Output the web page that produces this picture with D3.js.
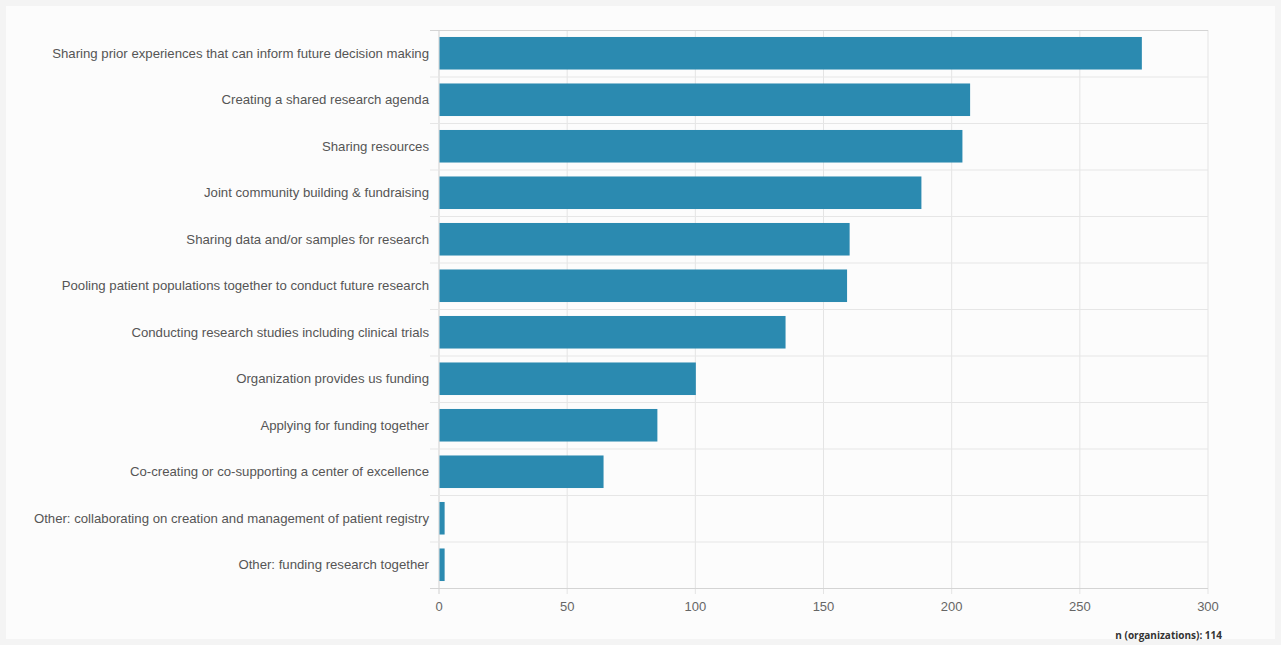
<!DOCTYPE html>
<html><head><meta charset="utf-8">
<script src="https://cdn.jsdelivr.net/npm/d3@7"></script>
<style>
html,body{margin:0;padding:0;background:#f4f4f4;}
svg{display:block;}
</style></head>
<body>
<svg id="c" width="1281" height="645"></svg>
<script>
const categories = [
  "Sharing prior experiences that can inform future decision making",
  "Creating a shared research agenda",
  "Sharing resources",
  "Joint community building & fundraising",
  "Sharing data and/or samples for research",
  "Pooling patient populations together to conduct future research",
  "Conducting research studies including clinical trials",
  "Organization provides us funding",
  "Applying for funding together",
  "Co-creating or co-supporting a center of excellence",
  "Other: collaborating on creation and management of patient registry",
  "Other: funding research together"
];
const values = [274, 207, 204, 188, 160, 159, 135, 100, 85, 64, 2, 2];
const xTicks = [0, 50, 100, 150, 200, 250, 300];
const note = "n (organizations): 114";

(function(){
const svg = d3.select("#c");
svg.append("rect").attr("x",6).attr("y",6).attr("width",1269).attr("height",633).attr("fill","#fcfcfc");

const mLeft = 439, mRight = 1208, mTop = 30, mBottom = 588;
const x = d3.scaleLinear().domain([0,300]).range([mLeft,mRight]);
const y = d3.scaleBand().domain(categories).range([mTop,mBottom]).paddingInner(0.3).paddingOuter(0.15);
const rowY = d3.scaleBand().domain(categories).range([mTop,mBottom]);

const g = svg.append("g");
g.selectAll("line.vg").data(xTicks).join("line")
  .attr("x1",d=>x(d)).attr("x2",d=>x(d)).attr("y1",mTop).attr("y2",mBottom+6)
  .attr("stroke",d=>d===0?"#d0d0d0":"#e4e4e4").attr("stroke-width",1);
const bounds = categories.map(c=>rowY(c)).concat([mBottom]);
g.selectAll("line.hg").data(bounds).join("line")
  .attr("x1",mLeft-9).attr("x2",mRight).attr("y1",d=>d+0.5).attr("y2",d=>d+0.5)
  .attr("stroke",(d,i)=>i===0||i===bounds.length-1?"#d4d4d4":"#e6e6e6");

g.selectAll("rect.bar").data(values).join("rect")
  .attr("x",x(0)+0.5).attr("y",(d,i)=>y(categories[i]))
  .attr("width",d=>x(d)-x(0)).attr("height",y.bandwidth())
  .attr("fill","#2b8ab0");

g.selectAll("text.lab").data(categories).join("text")
  .attr("x",mLeft-10).attr("y",c=>rowY(c)+rowY.bandwidth()/2)
  .attr("text-anchor","end").attr("dominant-baseline","central")
  .attr("font-family","'Liberation Sans', Arial, sans-serif").attr("font-size",13.2)
  .attr("fill","#555").text(c=>c);

g.selectAll("text.tick").data(xTicks).join("text")
  .attr("x",d=>x(d)).attr("y",mBottom+23)
  .attr("text-anchor","middle")
  .attr("font-family","'Liberation Sans', Arial, sans-serif").attr("font-size",13)
  .attr("fill","#666").text(d=>d);

svg.append("text").attr("x",1222).attr("y",639)
  .attr("text-anchor","end").attr("font-family","'Open Sans', sans-serif")
  .attr("font-weight","bold").attr("font-size",10).attr("fill","#333").text(note);
})();
</script>
</body></html>
